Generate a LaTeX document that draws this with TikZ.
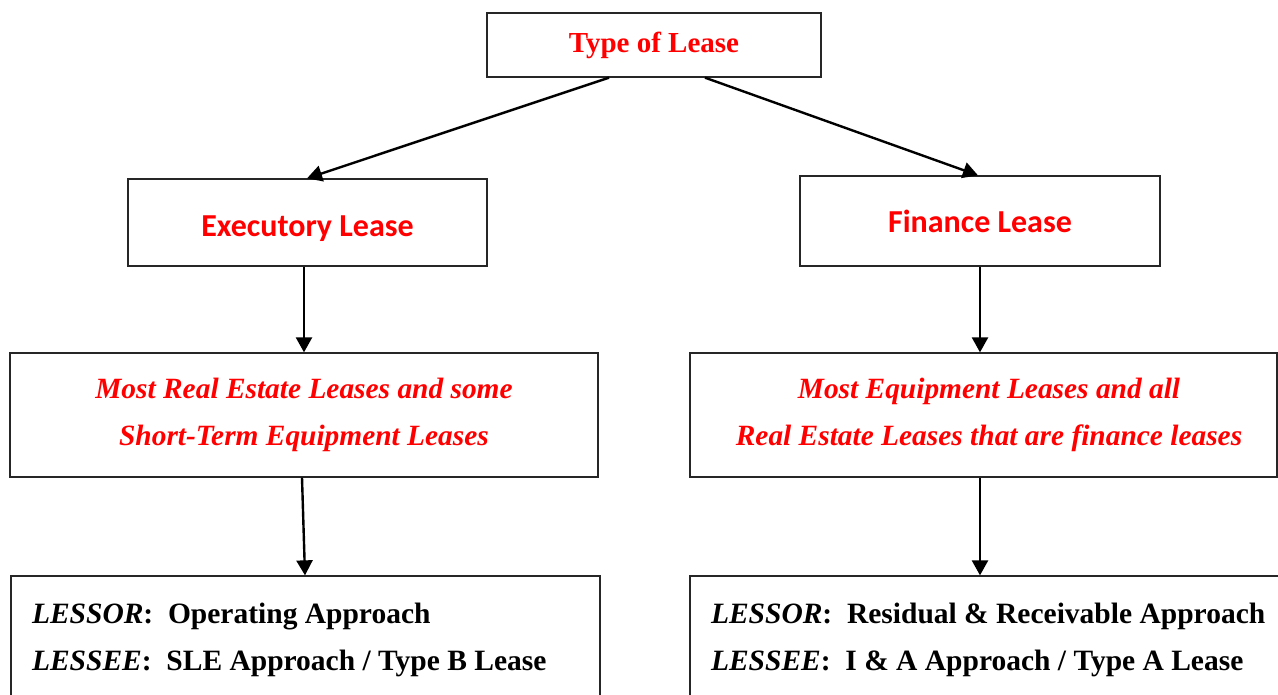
\documentclass[tikz,border=0pt]{standalone}
\usepackage{fontspec}
\setmainfont{Liberation Serif}
\newfontfamily\calibri{Carlito}
\usetikzlibrary{arrows.meta}
\definecolor{leasered}{RGB}{255,0,0}
\newcommand\tightspaces{\spaceskip=0.25em plus 0.05em\relax}
\begin{document}
\begin{tikzpicture}[x=1pt,y=-1pt,
  box/.style={draw=black!85, line width=1.3pt, fill=white, inner sep=0pt},
  arr/.style={line width=2.4pt, -{Triangle[length=15pt,width=16pt]}},
  redtitle/.style={text=leasered, font=\fontsize{29}{35}\selectfont\bfseries},
  calititle/.style={text=leasered, font=\fontsize{32}{38}\selectfont\calibri\bfseries},
  midtext/.style={text=leasered, align=center, font=\fontsize{29.4}{47}\selectfont\bfseries\itshape},
  bottext/.style={align=left, inner xsep=21pt, font=\fontsize{29.5}{47}\selectfont\bfseries}
]
\clip (0,0) rectangle (1278,694);
\fill[white] (0,0) rectangle (1278,694);

\node[box, redtitle, minimum width=334pt, minimum height=64pt] (top) at (654,45) {Type of Lease};
\node[box, calititle, text height=27pt, text depth=0pt, minimum width=359pt, minimum height=87pt] (exe) at (307.5,222.5) {Executory Lease};
\node[box, calititle, text height=23pt, text depth=0pt, minimum width=360pt, minimum height=90pt] (fin) at (980,221) {Finance Lease};

\node[box, midtext, minimum width=588pt, minimum height=124pt] (midL) at (304,415)
  {Most Real Estate Leases and some\\Short-Term Equipment Leases};
\node[box, midtext, minimum width=587pt, minimum height=124pt] (midR) at (983.5,415)
  {\hspace*{11pt}Most Equipment Leases and all\\\hspace*{11pt}Real Estate Leases that are finance leases};

\node[box, bottext, text width=547pt, minimum height=127pt] (botL) at (305.5,639.5)
  {\tightspaces\textit{LESSOR}:\ \ Operating Approach\\\textit{LESSEE}:\ \ SLE Approach / Type B Lease};
\node[box, bottext, text width=568pt, minimum height=127pt] (botR) at (995,639.5)
  {\tightspaces\textit{LESSOR}:\ \ Residual \& Receivable Approach\\\textit{LESSEE}:\ \ I \& A Approach / Type A Lease};

\draw[arr] ([xshift=-45pt]top.south) -- ([xshift=-0.5pt]exe.north);
\draw[arr] ([xshift=51pt]top.south) -- ([xshift=-2pt]fin.north);
\draw[arr] ([xshift=-3.5pt]exe.south) -- (midL.north);
\draw[arr] ([xshift=-2pt]midL.south) -- ([xshift=-0.5pt]botL.north);
\draw[arr] (fin.south) -- ([xshift=-3.5pt]midR.north);
\draw[arr] ([xshift=-3.5pt]midR.south) -- ([xshift=-15pt]botR.north);
\end{tikzpicture}
\end{document}
